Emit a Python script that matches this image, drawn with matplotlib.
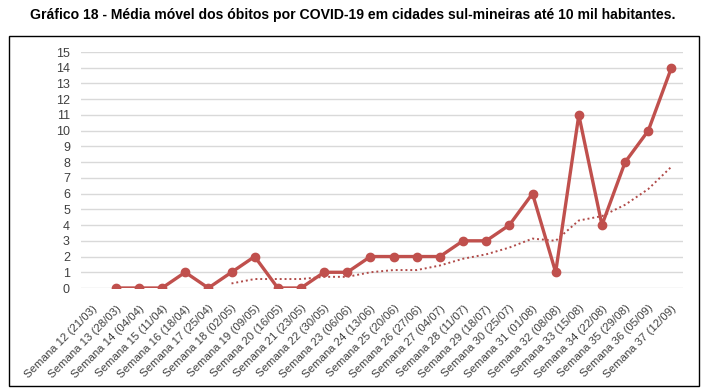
import matplotlib.pyplot as plt
from matplotlib.patches import Rectangle

plt.rcParams['font.family'] = ['Liberation Sans', 'DejaVu Sans']

semanas = ["Semana 12 (21/03)", "Semana 13 (28/03)", "Semana 14 (04/04)", "Semana 15 (11/04)",
           "Semana 16 (18/04)", "Semana 17 (25/04)", "Semana 18 (02/05)", "Semana 19 (09/05)",
           "Semana 20 (16/05)", "Semana 21 (23/05)", "Semana 22 (30/05)", "Semana 23 (06/06)",
           "Semana 24 (13/06)", "Semana 25 (20/06)", "Semana 26 (27/06)", "Semana 27 (04/07)",
           "Semana 28 (11/07)", "Semana 29 (18/07)", "Semana 30 (25/07)", "Semana 31 (01/08)",
           "Semana 32 (08/08)", "Semana 33 (15/08)", "Semana 34 (22/08)", "Semana 35 (29/08)",
           "Semana 36 (05/09)", "Semana 37 (12/09)"]
# Semana 12 has no value
obitos = [None, 0, 0, 0, 1, 0, 1, 2, 0, 0, 1, 1, 2, 2, 2, 2, 3, 3, 4, 6, 1, 11, 4, 8, 10, 14]
# moving-average trend (dotted), from Semana 18 on
tendencia = [None, None, None, None, None, None, 0.29, 0.57, 0.57, 0.57, 0.71, 0.71, 1.0,
             1.14, 1.14, 1.43, 1.86, 2.14, 2.57, 3.14, 3.0, 4.29, 4.57, 5.29, 6.29, 7.71]

x = list(range(len(semanas)))
fig = plt.figure(figsize=(7.05, 3.92), dpi=100)
ax = fig.add_axes([0.1149, 0.2653, 0.8539, 0.602])

# frame around the whole chart
fig.patches.append(Rectangle((9 / 705, 1 - 386 / 392), 690 / 705, 350 / 392,
                             transform=fig.transFigure, fill=False, edgecolor='black', lw=1))

fig.text(0.5, 1 - 15 / 392, "Gráfico 18 - Média móvel dos óbitos por COVID-19 em cidades sul-mineiras até 10 mil habitantes.",
         ha='center', va='center', fontsize=10.1, fontweight='bold')

xs = [i for i, v in zip(x, obitos) if v is not None]
ys = [v for v in obitos if v is not None]
ax.plot(xs, ys, color='#C0504D', lw=2.4, marker='o', markersize=6, zorder=3)

xt = [i for i, v in zip(x, tendencia) if v is not None]
yt = [v for v in tendencia if v is not None]
ax.plot(xt, yt, color='#B04A48', lw=1.4, linestyle=(0, (1, 1.5)), zorder=2)

ax.set_xlim(-0.5, len(semanas) - 0.5)
ax.set_ylim(0, 15)
ax.set_yticks(range(16))
ax.grid(axis='y', color='#D9D9D9', lw=1)
ax.set_axisbelow(True)
for s in ax.spines.values():
    s.set_visible(False)
ax.tick_params(length=0, labelsize=9, colors='#404040')
ax.tick_params(axis='y', pad=8)
ax.set_xticks(x)
ax.set_xticklabels(semanas, rotation=45, ha='right', va='top', rotation_mode='anchor', fontsize=8.2)
ax.tick_params(axis='x', pad=11)

fig.savefig('out.png', dpi=100)
